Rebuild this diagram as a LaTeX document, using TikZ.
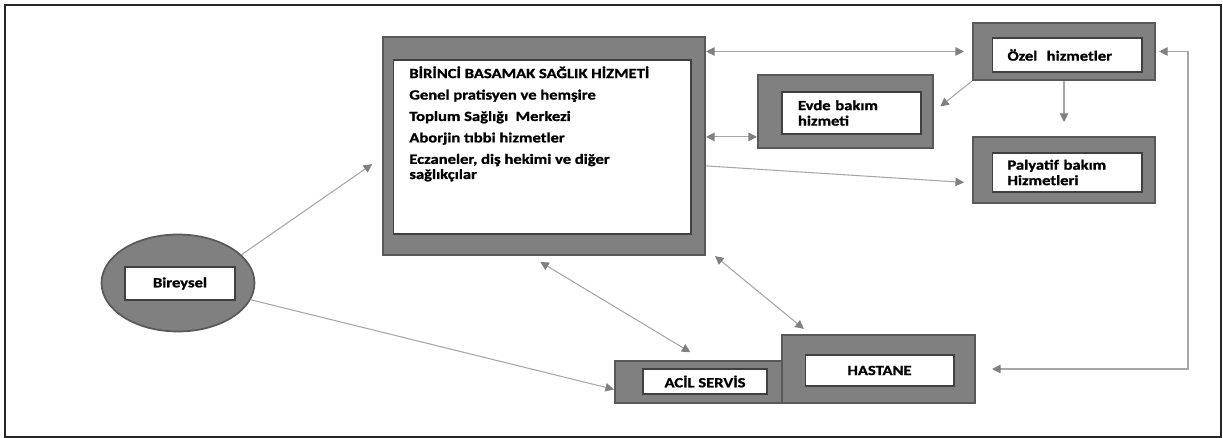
\documentclass[tikz,border=0pt]{standalone}
\usepackage{fontspec}
\setmainfont{Carlito}[FakeStretch=1.18, BoldFeatures={FakeBold=1.2}]
\usepackage{tikz}
\usetikzlibrary{shapes}
\usetikzlibrary{arrows.meta}
\usetikzlibrary{calc}
\usetikzlibrary{positioning}

\begin{document}
\begin{tikzpicture}[x=0.02cm, y=-0.02cm,
    >={Triangle[length=0.17cm,width=0.17cm,color=black!50]},
    frame/.style={draw=black!65, fill=black!50, line width=1.2pt, rectangle, inner sep=0pt},
    panel/.style={draw=black!75, fill=white, line width=0.6pt, rectangle, inner sep=0pt,
      font=\bfseries\fontsize{8}{8.8}\selectfont},
    link/.style={draw=black!35, line width=0.6pt}]
      \useasboundingbox (0,0) rectangle (1223,438);
      \draw[black!85, line width=1pt] (5,5) rectangle (1221,437);

      % outer frames
      \node[frame, minimum width=6.44cm, minimum height=4.36cm] (bigF) at (544,146) {};
      \node[frame, minimum width=3.5cm, minimum height=1.46cm] (evdeF) at (845.5,111.5) {};
      \node[frame, minimum width=3.64cm, minimum height=1.14cm] (ozelF) at (1064,51.5) {};
      \node[frame, minimum width=3.64cm, minimum height=1.32cm] (palyF) at (1064,170) {};
      \node[frame, ellipse, line width=1pt, minimum width=3.06cm, minimum height=1.94cm] (bireyF) at (178,283) {};
      \node[frame, minimum width=3.34cm, minimum height=0.84cm] (acilF) at (698.5,382) {};
      \node[frame, minimum width=3.86cm, minimum height=1.36cm] (hastF) at (878.5,369) {};

      % white panels
      \node[panel, minimum width=5.96cm, minimum height=3.48cm] (bigP) at (542,147) {};
      \node[anchor=north west, align=left, inner sep=0pt, font=\bfseries\fontsize{8}{8.6}\selectfont] (birinci) at (409,66)
        {BİRİNCİ BASAMAK SAĞLIK HİZMETİ\\[3.6pt]
         Genel pratisyen ve hemşire\\[3.6pt]
         Toplum Sağlığı\ \ Merkezi\\[3.6pt]
         Aborjin tıbbi hizmetler\\[3.6pt]
         Eczaneler, diş hekimi ve diğer\\
         sağlıkçılar};
      \node[panel, text width=2.14cm, inner xsep=0.32cm, minimum height=0.84cm, align=left] (evde) at (851.5,113) {Evde bakım\\hizmeti};
      \node[panel, text width=2.38cm, inner xsep=0.31cm, minimum height=0.68cm, align=left] (ozel) at (1067,55) {Özel\ \ hizmetler};
      \node[panel, text width=2.38cm, inner xsep=0.31cm, minimum height=0.78cm, align=left] (paly) at (1067,172.5) {Palyatif bakım\\Hizmetleri};
      \node[panel, minimum width=2.2cm, minimum height=0.66cm] (birey) at (180,283.5) {Bireysel};
      \node[panel, minimum width=2.48cm, minimum height=0.5cm] (acil) at (705,381.5) {ACİL SERVİS};
      \node[panel, minimum width=2.98cm, minimum height=0.62cm] (hast) at (879.5,370.5) {HASTANE};

      % connectors
      \coordinate (loopR) at (1188,200);
      \draw[link, <->, shorten >=0.16cm] (bigF.east |- ozelF.west) -- (ozelF.west);
      \draw[link, <->] (bigF.east |- evdeF.196) -- (evdeF.196);
      \draw[link, ->, shorten >=0.16cm] (bigF.353) -- (palyF.188);
      \draw[link, ->, shorten >=0.16cm] (ozelF.south west) -- (evdeF.east);
      \draw[link, ->, shorten >=0.28cm] (ozelF.south) -- (palyF.north);
      \draw[link, <->, shorten <=0.32cm, shorten >=0.06cm] (hastF.east) -- (hastF.east -| loopR) |- (ozelF.east);
      \draw[link, ->, shorten >=0.24cm] (bireyF.24) -- (bigF.184);
      \draw[link, ->] (bireyF.347) -- (acilF.185);
      \draw[link, <->, shorten <=0.23cm, shorten >=0.3cm] (bigF.263) -- (acilF.78);
      \draw[link, <->, shorten >=0.16cm] ([xshift=0.18cm]bigF.south east) -- ([xshift=0.58cm]hastF.north west);
    \end{tikzpicture}
\end{document}
